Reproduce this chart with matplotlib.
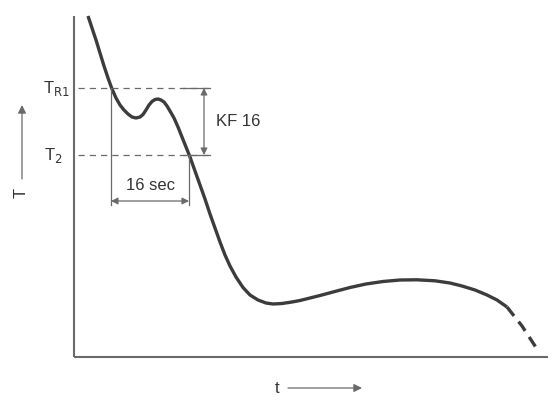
import numpy as np
import matplotlib
matplotlib.use("Agg")
import matplotlib.pyplot as plt

# curve (x = time, y = temperature, pixel-like units, y grows downward)
t_solid = [88, 92, 96, 100, 104, 108, 112, 116, 120, 124, 128, 132, 136, 140, 143, 146,
           149, 152, 155, 158, 161, 164, 167, 170, 174, 178, 182, 186, 190, 195, 200,
           205, 210, 215, 220, 225, 230, 236, 243, 250, 258, 266, 273, 282, 292, 300,
           310, 320, 333, 350, 366, 383, 400, 417, 435, 450, 462, 475, 487, 497, 507]
T_solid = [17, 29, 41, 54, 67, 79, 90, 99, 106, 111, 115, 118, 119, 118, 115.5, 111,
           106, 102.5, 100.5, 100, 101, 103, 107, 112, 119, 128, 138, 148, 158, 172, 186,
           200, 215, 229, 243, 256, 267, 278, 288.5, 296, 301, 304, 305, 304.5, 303, 301.5,
           299, 296.5, 293, 288.5, 285, 282.5, 281, 280.8, 281.8, 284, 287, 291, 296, 301, 308]
t_dash = [507, 522, 537]
T_dash = [308, 327, 350]

T_R1 = 89
T_2 = 156
t_a = 111
t_b = 189

ink = '#3c3c3c'
grey = '#6a6a6a'

plt.rcParams['font.family'] = ['Liberation Sans', 'DejaVu Sans']

fig = plt.figure(figsize=(5.55, 4.02), dpi=100)
ax = fig.add_axes([0, 0, 1, 1])
ax.set_xlim(0, 555)
ax.set_ylim(402, 0)
ax.axis('off')

# axes
ax.plot([74, 74], [17, 358], color=grey, lw=1.5, solid_capstyle='butt')
ax.plot([74, 548], [358, 358], color=grey, lw=1.5, solid_capstyle='butt')

# curve
ax.plot(t_solid, T_solid, color=ink, lw=2.4, solid_capstyle='butt', solid_joinstyle='round')
ax.plot(t_dash, T_dash, color=ink, lw=2.4, dashes=(3.4, 2.2))

# dashed levels
ax.plot([78, 212], [T_R1, T_R1], color=grey, lw=0.9, dashes=(5, 4))
ax.plot([78, 212], [T_2, T_2], color=grey, lw=0.9, dashes=(5, 4))
ax.text(70, T_R1, 'T$_{\\mathrm{R1}}$', ha='right', va='center', fontsize=12, color='#333333')
ax.text(63, T_2, 'T$_{2}$', ha='right', va='center', fontsize=12, color='#333333')

# 16 sec span
ax.plot([t_a, t_a], [T_R1, 206], color=grey, lw=0.9)
ax.plot([t_b, t_b], [T_2, 206], color=grey, lw=0.9)
ax.annotate('', xy=(t_a, 202), xytext=(t_b, 202),
            arrowprops=dict(arrowstyle='<|-|>', color=grey, lw=0.9, mutation_scale=10,
                            shrinkA=0, shrinkB=0))
ax.text((t_a + t_b) / 2, 186, '16 sec', ha='center', va='center', fontsize=12, color='#333333')

# KF 16 span
ax.plot([183, 210], [T_R1, T_R1], color=grey, lw=0.9)
ax.plot([183, 210], [T_2, T_2], color=grey, lw=0.9)
ax.annotate('', xy=(204, T_R1), xytext=(204, T_2),
            arrowprops=dict(arrowstyle='<|-|>', color=grey, lw=0.9, mutation_scale=10,
                            shrinkA=0, shrinkB=0))
ax.text(216, 122, 'KF 16', ha='left', va='center', fontsize=12, color='#333333')

# axis labels with arrows
ax.text(21, 193, 'T', ha='center', va='center', fontsize=12, rotation=90, color='#333333')
ax.annotate('', xy=(22, 106), xytext=(22, 180),
            arrowprops=dict(arrowstyle='-|>', color=grey, lw=0.9, mutation_scale=12,
                            shrinkA=0, shrinkB=0))
ax.text(277, 389, 't', ha='center', va='center', fontsize=12, color='#333333')
ax.annotate('', xy=(362, 389), xytext=(288, 389),
            arrowprops=dict(arrowstyle='-|>', color=grey, lw=0.9, mutation_scale=12,
                            shrinkA=0, shrinkB=0))

fig.savefig('out.png', dpi=100)
